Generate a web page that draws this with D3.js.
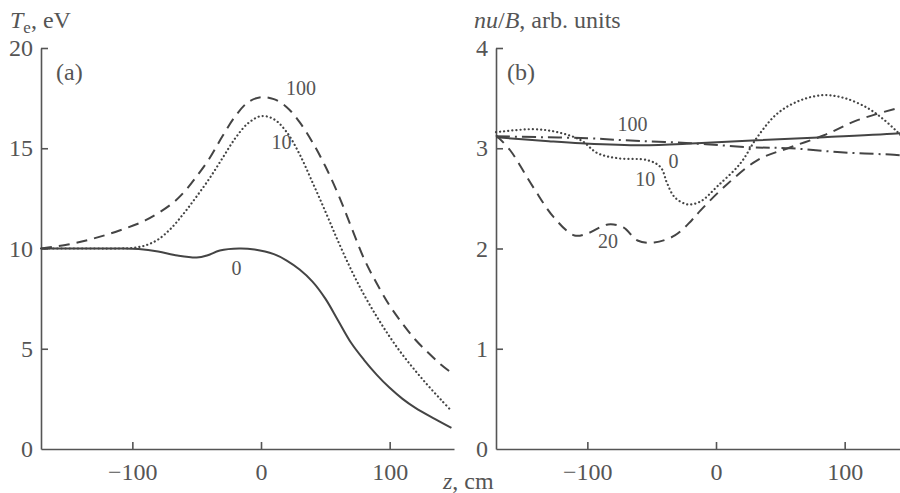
<!DOCTYPE html>
<html>
<head>
<meta charset="utf-8">
<script src="https://cdn.jsdelivr.net/npm/d3@7"></script>
<style>
	body { margin: 0; background: #fff; }
</style>
</head>
<body>
<svg id="chart" width="900" height="493"></svg>
<script>
// panel (a): Te, eV vs z, cm  -- [z, value]
const teCurve0 = [[-171,10],[-130,10],[-110,10],[-95,9.97],[-80,9.85],[-65,9.65],[-50,9.55],[-42,9.65],[-32,9.9],[-17,10],[-5,9.95],[10,9.72],[20,9.4],[30,8.95],[40,8.35],[50,7.5],[60,6.4],[70,5.3],[80,4.45],[90,3.7],[100,3.05],[110,2.5],[120,2.05],[135,1.5],[148,1.05]];
const teCurve10 = [[-171,10],[-130,10],[-110,10],[-100,10.03],[-90,10.15],[-80,10.45],[-70,11],[-60,11.75],[-50,12.6],[-40,13.5],[-30,14.5],[-20,15.5],[-10,16.25],[0,16.6],[10,16.45],[20,15.8],[30,14.7],[40,13.3],[50,11.85],[60,10.35],[70,8.95],[80,7.7],[90,6.6],[100,5.6],[110,4.7],[120,3.9],[130,3.15],[140,2.45],[148,1.9]];
const teCurve100 = [[-171,10],[-150,10.2],[-130,10.5],[-110,10.9],[-90,11.4],[-70,12.2],[-60,12.8],[-50,13.6],[-40,14.5],[-30,15.6],[-20,16.6],[-10,17.3],[0,17.55],[10,17.45],[20,17.05],[30,16.3],[40,15.3],[50,14.1],[60,12.7],[70,11.1],[80,9.5],[90,8.25],[100,7.15],[110,6.25],[120,5.45],[130,4.8],[140,4.2],[148,3.8]];

// panel (b): nu/B vs z, cm
const nuCurve0 = [[-171,3.11],[-130,3.07],[-105,3.05],[-58,3.03],[-15,3.05],[32,3.08],[84,3.11],[144,3.15],[150,3.16]];
const nuCurve100 = [[-171,3.12],[-136,3.11],[-100,3.1],[-71,3.08],[-20,3.05],[27,3.01],[58,3],[97,2.96],[144,2.93],[150,2.92]];
const nuCurve10 = [[-171,3.16],[-142,3.19],[-123,3.16],[-105,3.08],[-92,2.95],[-76,2.9],[-53,2.88],[-43,2.81],[-38,2.65],[-32,2.51],[-22,2.44],[-12,2.47],[1,2.62],[19,2.85],[32,3.11],[48,3.35],[66,3.48],[84,3.53],[100,3.5],[118,3.4],[131,3.28],[142,3.15],[150,3.05]];
const nuCurve20 = [[-171,3.13],[-160,2.98],[-142,2.61],[-126,2.31],[-110,2.13],[-100,2.15],[-84,2.24],[-72,2.21],[-61,2.08],[-48,2.06],[-32,2.13],[-19,2.28],[-12,2.38],[6,2.61],[32,2.88],[58,3.01],[84,3.13],[110,3.28],[144,3.41],[150,3.43]];

const zTicks = [-100, 0, 100];
const teTicks = [0, 5, 10, 15, 20];
const nuTicks = [0, 1, 2, 3, 4];

const serif = '"Liberation Serif", "DejaVu Serif", "Times New Roman", serif';
const svg = d3.select('#chart');
const ink = '#444';

function txt(sel, size) {
	return sel.style('font-family', serif).style('font-size', size + 'px').style('fill', '#555');
}

function panel(opts) {
	const x = d3.scaleLinear().domain([-171, 150]).range(opts.xr);
	const y = d3.scaleLinear().domain(opts.yd).range([449, 48]);

	const g = svg.append('g');

	const xAxis = d3.axisBottom(x).tickValues(zTicks).tickFormat(d3.format('d'))
		.tickSizeInner(-7).tickSizeOuter(0).tickPadding(14);
	const yAxis = d3.axisLeft(y).tickValues(opts.yt).tickFormat(d3.format('d'))
		.tickSizeInner(-7).tickSizeOuter(0).tickPadding(8);

	const gx = g.append('g').attr('transform', 'translate(0,449)').call(xAxis);
	const gy = g.append('g').attr('transform', `translate(${opts.xr[0]},0)`).call(yAxis);
	[gx, gy].forEach(a => {
		a.attr('font-family', null);
		a.selectAll('path, line').attr('stroke', '#555').attr('stroke-width', 1.6);
		txt(a.selectAll('text'), 24);
	});
	gy.selectAll('.tick').filter(d => d === 0).select('line').remove();

	const line = d3.line()
		.x(d => x(d[0]))
		.y(d => y(d[1]))
		.curve(d3.curveCatmullRom.alpha(0.5));

	opts.series.forEach(s => {
		g.append('path')
			.datum(s.data)
			.attr('d', line)
			.attr('fill', 'none')
			.attr('stroke', ink)
			.attr('stroke-width', s.w || 2)
			.attr('stroke-linecap', s.cap || 'butt')
			.attr('stroke-dasharray', s.dash);
	});

	opts.labels.forEach(l => {
		txt(g.append('text'), 20)
			.attr('x', x(l.z)).attr('y', y(l.v))
			.attr('text-anchor', 'middle')
			.attr('dominant-baseline', 'central')
			.text(l.t);
	});
	return g;
}

panel({
	xr: [41, 454], yd: [0, 20], yt: teTicks,
	series: [
		{ data: teCurve0, dash: null },
		{ data: teCurve10, dash: '0.1 4', w: 2.2, cap: 'round' },
		{ data: teCurve100, dash: '11 7' }
	],
	labels: [
		{ z: 31, v: 18.0, t: '100' },
		{ z: 16, v: 15.3, t: '10' },
		{ z: -19, v: 9.05, t: '0' }
	]
});

panel({
	xr: [496, 909], yd: [0, 4], yt: nuTicks,
	series: [
		{ data: nuCurve0, dash: null },
		{ data: nuCurve100, dash: '14 5 2 5' },
		{ data: nuCurve10, dash: '0.1 4', w: 2.2, cap: 'round' },
		{ data: nuCurve20, dash: '11 7' }
	],
	labels: [
		{ z: -65, v: 3.24, t: '100' },
		{ z: -33, v: 2.87, t: '0' },
		{ z: -55, v: 2.69, t: '10' },
		{ z: -84, v: 2.07, t: '20' }
	]
});

// axis titles
const t1 = txt(svg.append('text'), 24).attr('x', 10).attr('y', 28);
t1.append('tspan').style('font-style', 'italic').text('T');
t1.append('tspan').attr('dy', 5).style('font-size', '17px').text('e');
t1.append('tspan').attr('dy', -5).text(', eV');

const t2 = txt(svg.append('text'), 24).attr('x', 474).attr('y', 28);
t2.append('tspan').style('font-style', 'italic').text('nu');
t2.append('tspan').text('/');
t2.append('tspan').style('font-style', 'italic').text('B');
t2.append('tspan').text(', arb. units');

txt(svg.append('text'), 24).attr('x', 56).attr('y', 80).text('(a)');
txt(svg.append('text'), 24).attr('x', 507).attr('y', 80).text('(b)');

const t3 = txt(svg.append('text'), 24).attr('x', 443).attr('y', 489);
t3.append('tspan').style('font-style', 'italic').text('z');
t3.append('tspan').text(', cm');
</script>
</body>
</html>
